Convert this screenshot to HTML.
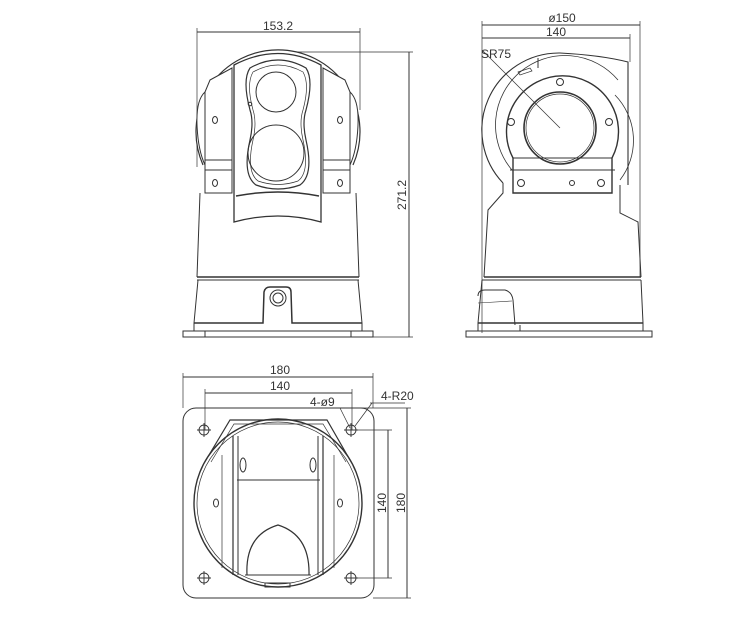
<!DOCTYPE html>
<html><head><meta charset="utf-8"><style>
html,body{margin:0;padding:0;background:#fff;}
svg{display:block}
text{font-family:"Liberation Sans",sans-serif;fill:#333;font-size:12px}
</style></head><body>
<svg width="750" height="621" viewBox="0 0 750 621" xmlns="http://www.w3.org/2000/svg">
<g fill="none" stroke="#333" stroke-width="1">
<!-- ===== FRONT VIEW ===== -->
<line x1="197" y1="32" x2="360" y2="32"/>
<line x1="197" y1="28" x2="197" y2="167" stroke-width="0.7"/>
<line x1="360" y1="28" x2="360" y2="110" stroke-width="0.7"/>
<line x1="275" y1="52" x2="413" y2="52" stroke-width="0.7"/>
<line x1="365" y1="337" x2="413" y2="337" stroke-width="0.7"/>
<line x1="409" y1="52" x2="409" y2="337"/>
<!-- dome -->
<path d="M203 165 A82 82 0 1 1 353 165" stroke-width="1.2" fill="#fff"/>
<path d="M205 92 Q196 100 197 125 Q198 150 205 165" fill="#fff"/>
<path d="M350 92 Q359 100 358 125 Q357 150 350 165" fill="#fff"/>
<path d="M210 80 L232 68 L232 193 L205 193 L205 92 Z" fill="#fff"/>
<path d="M345 80 L323 68 L323 193 L350 193 L350 92 Z" fill="#fff"/>
<line x1="205" y1="160" x2="232" y2="160"/><line x1="205" y1="170" x2="232" y2="170"/>
<line x1="323" y1="160" x2="350" y2="160"/><line x1="323" y1="170" x2="350" y2="170"/>
<ellipse cx="215" cy="120" rx="2.5" ry="3.5"/><ellipse cx="340" cy="120" rx="2.5" ry="3.5"/>
<ellipse cx="215" cy="183" rx="2.5" ry="3.5"/><ellipse cx="340" cy="183" rx="2.5" ry="3.5"/>
<!-- camera body -->
<path d="M234 65 Q278 42 321 65 L321 222 Q278 210 234 222 Z" stroke-width="1.3" fill="#fff"/>
<path d="M236 196 Q278 188 319 196" stroke-width="1.5"/>
<path d="M250 68 Q278 52 306 68 Q314 80 306 110 Q302 122 306 140 Q314 175 300 185 Q278 193 256 185 Q242 175 250 140 Q254 122 250 110 Q242 80 250 68 Z" stroke-width="1.2"/>
<path d="M253 72 Q278 58 303 72 Q310 84 303 110 Q299 122 303 140 Q310 172 298 181 Q278 188 258 181 Q246 172 253 140 Q257 122 253 110 Q246 84 253 72 Z" stroke-width="0.7"/>
<circle cx="276" cy="92" r="20"/>
<circle cx="276" cy="153" r="28"/>
<circle cx="250" cy="104" r="1.8"/>
<!-- body -->
<line x1="200" y1="193" x2="197" y2="277"/>
<line x1="356" y1="193" x2="359" y2="277"/>
<line x1="197" y1="277" x2="359" y2="277" stroke-width="1.4"/>
<line x1="197" y1="280" x2="359" y2="280"/>
<line x1="198" y1="280" x2="194" y2="323"/>
<line x1="358" y1="280" x2="362" y2="323"/>
<path d="M194 323 L263 323 L264 292 Q265 287 270 287 L286 287 Q291 287 291 292 L292 323 L362 323" stroke-width="1.5"/>
<circle cx="278" cy="298" r="8"/><circle cx="278" cy="298" r="5"/>
<path d="M194 323 L194 331 M362 323 L362 331"/>
<rect x="183" y="331" width="190" height="6"/>
<line x1="205" y1="331" x2="205" y2="337"/><line x1="351" y1="331" x2="351" y2="337"/>

<!-- ===== SIDE VIEW ===== -->
<line x1="482" y1="25" x2="640" y2="25"/>
<line x1="482" y1="38" x2="630" y2="38"/>
<line x1="482" y1="21" x2="482" y2="333" stroke-width="0.7"/>
<line x1="640" y1="21" x2="640" y2="277" stroke-width="0.7"/>
<line x1="630" y1="34" x2="630" y2="62" stroke-width="0.7"/>
<path d="M503 183 A77 77 0 0 1 560 53 Q600 55 628 62 L628 185" stroke-width="1.1"/>
<path d="M512 170 A66 66 0 0 1 618 80" stroke-width="0.8"/>
<path d="M615 95 A65 65 0 0 1 620 180" stroke-width="0.8"/>
<line x1="538" y1="58" x2="538" y2="68"/>
<path d="M518 72 L530 68 L532 71 L520 75 Z" stroke-width="0.7"/>
<path d="M513 158 L513 193 L612 193 L612 158 A56 56 0 1 0 513 158 Z" stroke-width="1.4"/>
<line x1="513" y1="158" x2="612" y2="158"/>
<line x1="510" y1="170" x2="615" y2="170"/>
<circle cx="560" cy="128" r="36" stroke-width="1.6"/>
<circle cx="560" cy="128" r="34" stroke-width="0.7"/>
<line x1="482" y1="50" x2="560" y2="128" stroke-width="0.7"/>
<g stroke-width="1"><circle cx="560" cy="82" r="3.5"/><circle cx="511" cy="122" r="3.5"/><circle cx="609" cy="122" r="3.5"/><circle cx="521" cy="183" r="3.5"/><circle cx="601" cy="183" r="3.5"/><circle cx="572" cy="183" r="2.5"/></g>
<path d="M503 183 L503 193 L488 210 L484 277" />
<path d="M620 185 L620 213 L638 222 L641 277"/>
<line x1="484" y1="277" x2="641" y2="277" stroke-width="1.4"/>
<line x1="482" y1="280" x2="641" y2="280"/>
<path d="M482 280 L478 323 M641 280 L643 323" />
<path d="M478 296 Q478 290 485 290 L505 290 Q512 292 513 300 L515 325" />
<line x1="478" y1="303" x2="512" y2="301" stroke-width="0.6"/>
<line x1="478" y1="323" x2="643" y2="323" stroke-width="1.6"/>
<line x1="478" y1="323" x2="478" y2="331"/><line x1="643" y1="323" x2="643" y2="331"/>
<rect x="466" y="331" width="186" height="6"/>
<line x1="520" y1="325" x2="520" y2="331"/>

<!-- ===== BOTTOM VIEW ===== -->
<line x1="183" y1="377" x2="373" y2="377"/>
<line x1="183" y1="373" x2="183" y2="408" stroke-width="0.7"/>
<line x1="373" y1="373" x2="373" y2="408" stroke-width="0.7"/>
<line x1="205" y1="393" x2="352" y2="393"/>
<line x1="205" y1="389" x2="205" y2="430" stroke-width="0.7"/>
<line x1="352" y1="389" x2="352" y2="430" stroke-width="0.7"/>
<line x1="205" y1="408" x2="411" y2="408" stroke-width="0.7"/>
<line x1="352" y1="430" x2="392" y2="430" stroke-width="0.7"/>
<line x1="352" y1="578" x2="392" y2="578" stroke-width="0.7"/>
<line x1="373" y1="598" x2="411" y2="598" stroke-width="0.7"/>
<line x1="388" y1="430" x2="388" y2="578"/>
<line x1="407" y1="408" x2="407" y2="598"/>
<rect x="183" y="408" width="191" height="190" rx="13"/>
<g stroke-width="0.9">
<circle cx="204" cy="430" r="5"/><path d="M197 430h14M204 423v14"/>
<circle cx="351" cy="430" r="5"/><path d="M344 430h14M351 423v14"/>
<circle cx="204" cy="578" r="5"/><path d="M197 578h14M204 571v14"/>
<circle cx="351" cy="578" r="5"/><path d="M344 578h14M351 571v14"/>
</g>
<line x1="308" y1="408" x2="345" y2="408" stroke-width="0.7"/>
<line x1="340" y1="408" x2="350" y2="428" stroke-width="0.7"/>
<line x1="370" y1="403" x2="405" y2="403" stroke-width="0.7"/>
<line x1="372" y1="403" x2="355" y2="426" stroke-width="0.7"/>
<circle cx="278" cy="503" r="84" stroke-width="1.4"/>
<circle cx="278" cy="503" r="81" stroke-width="0.7"/>
<path d="M206 460 L230 420 L327 420 L350 460" stroke-width="1.2"/>
<path d="M211 462 L234 424 L323 424 L346 462" stroke-width="0.7"/>
<line x1="233" y1="436" x2="233" y2="575" stroke-width="1.2"/>
<line x1="238" y1="436" x2="238" y2="575"/>
<line x1="318" y1="436" x2="318" y2="575"/>
<line x1="323" y1="436" x2="323" y2="575" stroke-width="1.2"/>
<line x1="222" y1="455" x2="222" y2="568" stroke-width="0.7"/>
<line x1="334" y1="455" x2="334" y2="568" stroke-width="0.7"/>
<line x1="237" y1="480" x2="320" y2="480"/>
<ellipse cx="243" cy="465" rx="3" ry="7"/><ellipse cx="313" cy="465" rx="3" ry="7"/>
<ellipse cx="216" cy="503" rx="2.5" ry="4"/><ellipse cx="340" cy="503" rx="2.5" ry="4"/>
<path d="M247 575 Q245 535 278 525 Q310 535 309 575" stroke-width="1.2"/>
<line x1="245" y1="575" x2="311" y2="575"/>
<rect x="265" y="583" width="25" height="4" stroke-width="1"/>
</g>
<text x="278" y="30" text-anchor="middle">153.2</text>
<text transform="translate(406,195) rotate(-90)" text-anchor="middle">271.2</text>
<text x="562" y="22" text-anchor="middle">ø150</text>
<text x="556" y="36" text-anchor="middle">140</text>
<text x="481" y="58">SR75</text>
<text x="280" y="374" text-anchor="middle">180</text>
<text x="280" y="390" text-anchor="middle">140</text>
<text x="310" y="406">4-ø9</text>
<text x="381" y="400">4-R20</text>
<text transform="translate(386,503) rotate(-90)" text-anchor="middle">140</text>
<text transform="translate(405,503) rotate(-90)" text-anchor="middle">180</text>
</svg>
</body></html>
